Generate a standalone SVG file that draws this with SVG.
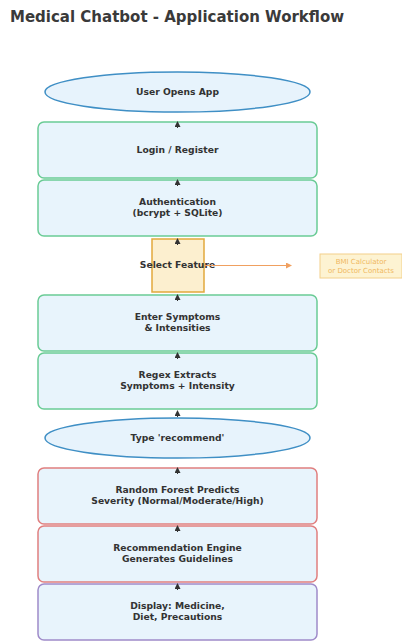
<svg xmlns="http://www.w3.org/2000/svg" width="402" height="641" viewBox="0 0 402 641">
<style>
.t{font-family:"DejaVu Sans",Verdana,sans-serif;font-weight:bold;fill:#333;text-anchor:middle;font-size:9.2px}
.title{font-family:"DejaVu Sans",Verdana,sans-serif;font-weight:bold;fill:#3a3a3a;font-size:15px}
.ell{fill:#e7f3fc;stroke:#3f8fc5;stroke-width:1.5}
.g{fill:#e8f4fc;stroke:#6acb95;stroke-width:1.5}
.r{fill:#e8f4fc;stroke:#e07f7f;stroke-width:1.5}
.p{fill:#e8f4fc;stroke:#9f8bc9;stroke-width:1.5}
.sel{fill:#fcefcf;stroke:#e2a93d;stroke-width:1.5}
.side{fill:#fdf3d2;stroke:#f3d08a;stroke-width:1}
.st{font-family:"DejaVu Sans",Verdana,sans-serif;fill:#f0b860;text-anchor:middle;font-size:7px}
.c{stroke:#333;stroke-width:1;fill:none}
</style>
<defs>
<marker id="ah" markerWidth="6" markerHeight="6" refX="5" refY="3" orient="auto" markerUnits="userSpaceOnUse"><path d="M0,0 L6,3 L0,6 z" fill="#333"/></marker>
<marker id="ao" markerWidth="6" markerHeight="6" refX="5" refY="3" orient="auto" markerUnits="userSpaceOnUse"><path d="M0,0 L6,3 L0,6 z" fill="#f0a060"/></marker>
</defs>
<text class="title" x="10" y="22">Medical Chatbot - Application Workflow</text>

<g id="n1"><ellipse class="ell" cx="177.5" cy="92" rx="132.5" ry="20"/><text class="t" x="177.5" y="95">User Opens App</text></g>
<g id="n2"><rect class="g" x="38" y="122" width="279" height="56" rx="6"/><text class="t" x="177.5" y="153">Login / Register</text></g>
<g id="n3"><rect class="g" x="38" y="180" width="279" height="56" rx="6"/><text class="t" x="177.5" y="205">Authentication</text><text class="t" x="177.5" y="216">(bcrypt + SQLite)</text></g>
<g id="n4"><rect class="sel" x="152" y="239" width="52" height="53"/><text class="t" x="177.5" y="268">Select Feature</text></g>
<g id="n5"><rect class="side" x="320" y="254" width="82" height="24"/><text class="st" x="361" y="264">BMI Calculator</text><text class="st" x="361" y="273">or Doctor Contacts</text></g>
<g id="n6"><rect class="g" x="38" y="295" width="279" height="56" rx="6"/><text class="t" x="177.5" y="320">Enter Symptoms</text><text class="t" x="177.5" y="331">&amp; Intensities</text></g>
<g id="n7"><rect class="g" x="38" y="353" width="279" height="56" rx="6"/><text class="t" x="177.5" y="378">Regex Extracts</text><text class="t" x="177.5" y="389">Symptoms + Intensity</text></g>
<g id="n8"><ellipse class="ell" cx="177.5" cy="438" rx="132.5" ry="20"/><text class="t" x="177.5" y="441">Type 'recommend'</text></g>
<g id="n9"><rect class="r" x="38" y="468" width="279" height="56" rx="6"/><text class="t" x="177.5" y="493">Random Forest Predicts</text><text class="t" x="177.5" y="504">Severity (Normal/Moderate/High)</text></g>
<g id="n10"><rect class="r" x="38" y="526" width="279" height="56" rx="6"/><text class="t" x="177.5" y="551">Recommendation Engine</text><text class="t" x="177.5" y="562">Generates Guidelines</text></g>
<g id="n11"><rect class="p" x="38" y="584" width="279" height="56" rx="6"/><text class="t" x="177.5" y="609">Display: Medicine,</text><text class="t" x="177.5" y="620">Diet, Precautions</text></g>

<g id="connectors">
<path class="c" d="M177.5,128 L177.5,122" marker-end="url(#ah)"/>
<path class="c" d="M177.5,186 L177.5,180" marker-end="url(#ah)"/>
<path class="c" d="M177.5,245 L177.5,239" marker-end="url(#ah)"/>
<path class="c" d="M177.5,301 L177.5,295" marker-end="url(#ah)"/>
<path class="c" d="M177.5,359 L177.5,353" marker-end="url(#ah)"/>
<path class="c" d="M177.5,417 L177.5,411" marker-end="url(#ah)"/>
<path class="c" d="M177.5,474 L177.5,468" marker-end="url(#ah)"/>
<path class="c" d="M177.5,532 L177.5,526" marker-end="url(#ah)"/>
<path class="c" d="M177.5,590 L177.5,584" marker-end="url(#ah)"/>
<path d="M204,265.5 L291,265.5" stroke="#f0a060" stroke-width="1.2" fill="none" marker-end="url(#ao)"/>
</g>
</svg>
